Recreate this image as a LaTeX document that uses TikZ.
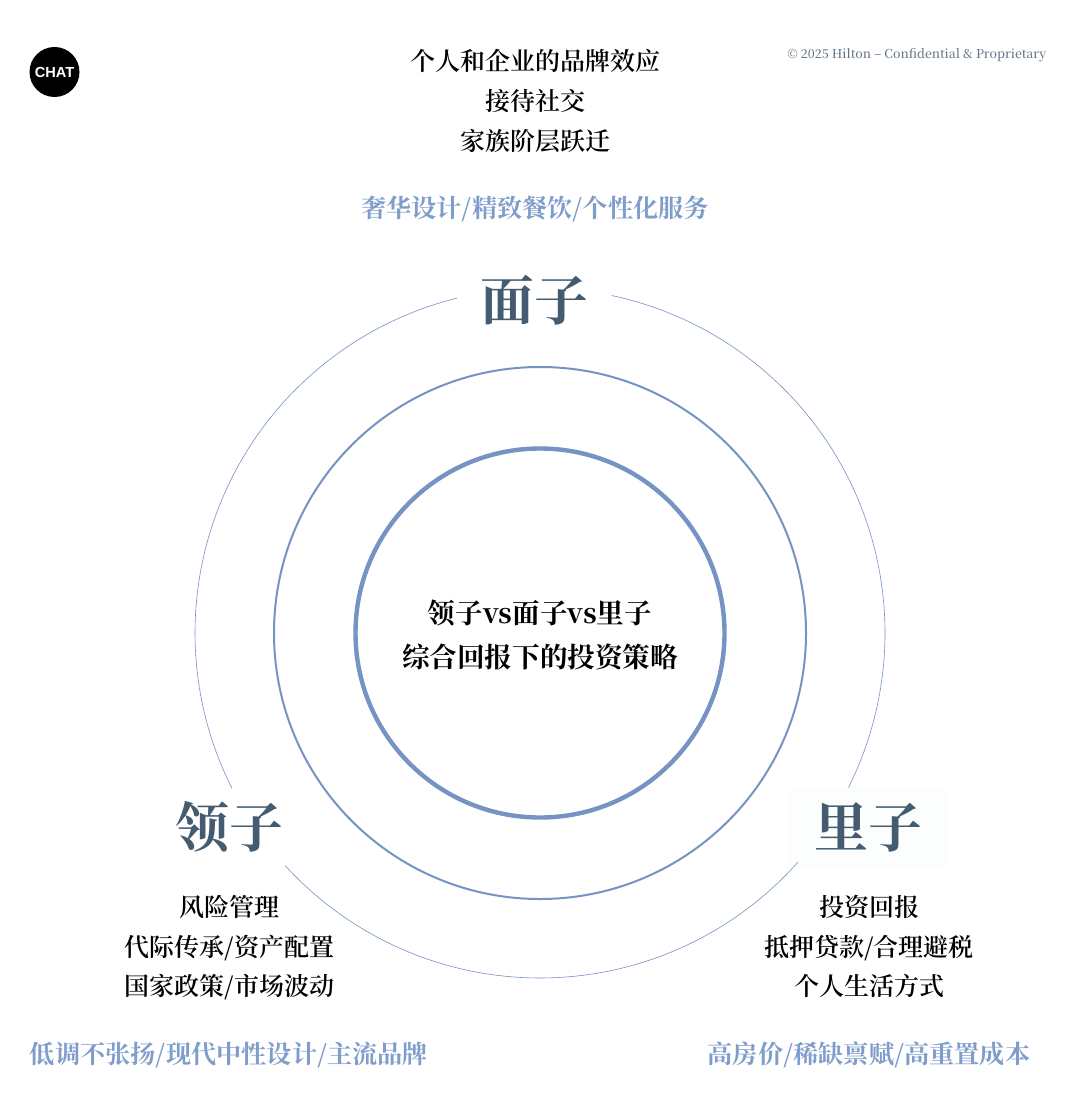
\documentclass[tikz,border=0pt]{standalone}
\usepackage{fontspec}
\newfontfamily\serifmed{Noto Serif CJK SC Medium}
\newfontfamily\serifsemi{Noto Serif CJK SC SemiBold}
\newfontfamily\serifbold{Noto Serif CJK SC Bold}
\newfontfamily\sansbold{Liberation Sans Bold}
\definecolor{ringblue}{HTML}{7593C3}
\definecolor{slate}{HTML}{445B70}
\definecolor{softblue}{HTML}{7F9DCB}
\definecolor{tagbg}{HTML}{FCFEFE}
\tikzset{
  x=1pt,y=-1pt,
  txt/.style={inner sep=0pt,text depth=0pt,anchor=center},
  body/.style={txt,text height=19pt,font=\serifsemi\fontsize{25}{25}\selectfont,text=black},
  tag/.style={txt,text height=19.2pt,font=\serifbold\fontsize{25.2}{25.2}\selectfont,text=softblue},
  head/.style={txt,text height=41pt,font=\serifbold\fontsize{54}{54}\selectfont,text=slate},
  core/.style={txt,text height=21pt,font=\serifbold\fontsize{27.6}{27.6}\selectfont,text=black},
  ringline/.style={draw=ringblue,fill=none},
}
\begin{document}
\begin{tikzpicture}
\useasboundingbox[fill=white] (0,0) rectangle (1080,1118);
% soft panel behind the right-hand heading
\node[fill=tagbg,rounded corners=10pt,minimum width=160pt,minimum height=80pt,inner sep=0pt] (libg) at (868,827) {};
% logo
\node[circle,fill=black,minimum size=50pt,inner sep=0pt] (logo) at (54.5,72) {};
\node[font=\sansbold\fontsize{14.6}{14.6}\selectfont,text=white,inner sep=0pt] (logotext) at (54.5,72) {CHAT};
\node[inner sep=0pt,font=\serifmed\fontsize{12.35}{12.35}\selectfont,text=slate!85,anchor=east] (copy) at (1046.5,55) {© 2025 Hilton – Confidential \& Proprietary};
% rings
\coordinate (c) at (540,633);
\draw[ringline,line width=4.4pt] (c) circle[radius=184.5];
\draw[ringline,line width=2pt] (c) circle[radius=266];
\draw[ringline,line width=.6pt] (c) ++(-78:345) arc[start angle=-78,end angle=26.6,radius=345];
\draw[ringline,line width=.6pt] (c) ++(41.6:345) arc[start angle=41.6,end angle=137.6,radius=345];
\draw[ringline,line width=.6pt] (c) ++(-206.7:345) arc[start angle=-206.7,end angle=-103.9,radius=345];
% top
\node[body] (t1) at (535,61) {个人和企业的品牌效应};
\node[body] (t2) at (535,101) {接待社交};
\node[body] (t3) at (535,141) {家族阶层跃迁};
\node[tag] (t4) at (535,208) {奢华设计/精致餐饮/个性化服务};
\node[head] (mian) at (534.5,300) {面子};
% centre
\node[core] (c1) at (540,613) {领子vs面子vs里子};
\node[core] (c2) at (540,657) {综合回报下的投资策略};
% left
\node[head] (ling) at (229,827) {领子};
\node[body] (l1) at (229.5,907) {风险管理};
\node[body] (l2) at (229.5,947) {代际传承/资产配置};
\node[body] (l3) at (229.5,986) {国家政策/市场波动};
\node[tag] (l4) at (229,1054) {低调不张扬/现代中性设计/主流品牌};
% right
\node[head] (li) at (868.5,827) {里子};
\node[body] (r1) at (869,907) {投资回报};
\node[body] (r2) at (869,947) {抵押贷款/合理避税};
\node[body] (r3) at (869,986) {个人生活方式};
\node[tag] (r4) at (869,1054) {高房价/稀缺禀赋/高重置成本};
\end{tikzpicture}
\end{document}
